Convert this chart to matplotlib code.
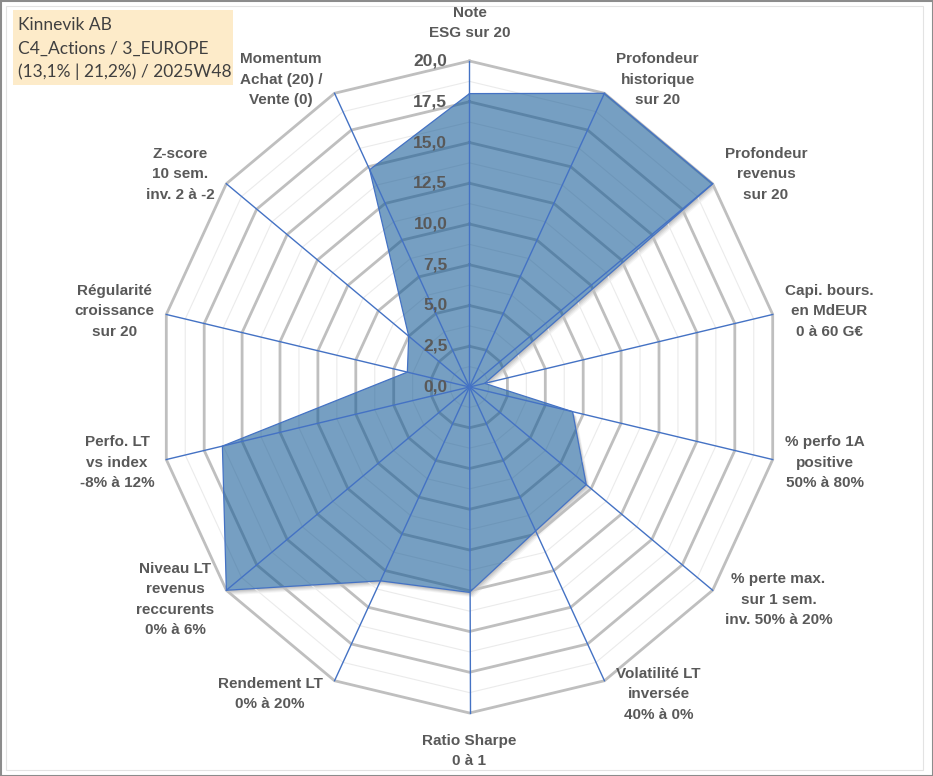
import matplotlib
matplotlib.use("Agg")
import matplotlib.pyplot as plt
import matplotlib.transforms as mtransforms
from matplotlib.patches import Rectangle
import numpy as np

# ---------------- data ----------------
categories = [
    "Note\nESG sur 20",
    "Profondeur\nhistorique\nsur 20",
    "Profondeur\nrevenus\nsur 20",
    "Capi. bours.\nen MdEUR\n0 à 60 G€",
    "% perfo 1A\npositive\n50% à 80%",
    "% perte max.\nsur 1 sem.\ninv. 50% à 20%",
    "Volatilité LT\ninversée\n40% à 0%",
    "Ratio Sharpe\n0 à 1",
    "Rendement LT\n0% à 20%",
    "Niveau LT\nrevenus\nreccurents\n0% à 6%",
    "Perfo. LT\nvs index\n-8% à 12%",
    "Régularité\ncroissance\nsur 20",
    "Z-score\n10 sem.\ninv. 2 à -2",
    "Momentum\nAchat (20) /\nVente (0)",
]
values = [18.0, 20.0, 20.0, 1.0, 6.8, 9.6, 9.8, 12.6, 13.2, 20.0, 16.3, 4.1, 5.0, 14.8]
tick_values = [0.0, 2.5, 5.0, 7.5, 10.0, 12.5, 15.0, 17.5, 20.0]
tick_labels = ["0,0", "2,5", "5,0", "7,5", "10,0", "12,5", "15,0", "17,5", "20,0"]
title_lines = ["Kinnevik AB", "C4_Actions / 3_EUROPE", "(13,1% | 21,2%) / 2025W48"]

# ---------------- figure ----------------
W, H = 933, 776
fig = plt.figure(figsize=(W / 100, H / 100), dpi=100)
ax = fig.add_axes([0, 0, 1, 1])
cx, cy = 469.5, 387.0      # centre in pixels
rx, ry = 311.0, 326.0      # pixel length of the max value
rmax = tick_values[-1]
ax.set_xlim(-cx / rx * rmax, (W - cx) / rx * rmax)
ax.set_ylim(-(H - cy) / ry * rmax, cy / ry * rmax)
ax.axis("off")

n = len(categories)
theta = np.arange(n) * 2 * np.pi / n
sx, sy = np.sin(theta), np.cos(theta)


def closed(r):
    r = np.asarray(r, dtype=float) * np.ones(n)
    return np.append(r * sx, r[0] * sx[0]), np.append(r * sy, r[0] * sy[0])


vx, vy = closed(values)

# shadow of the series (soft, offset down-right)
for k, a in [(1, 0.07), (2, 0.07), (3, 0.06), (4, 0.05), (5, 0.04)]:
    tr = mtransforms.offset_copy(ax.transData, fig=fig, x=k * 0.8, y=-k, units="dots")
    ax.fill(vx, vy, color="black", alpha=a, lw=0, transform=tr, zorder=0.5)
ax.fill(vx, vy, color="white", lw=0, zorder=0.8)

# minor grid
step = tick_values[1] - tick_values[0]
for lv in np.arange(step / 2, rmax, step):
    gx, gy = closed(lv)
    ax.plot(gx, gy, color="#EBEBEB", lw=0.8, zorder=1)
# major grid
for lv in tick_values[1:]:
    gx, gy = closed(lv)
    ax.plot(gx, gy, color="#BFBFBF", lw=2.0, zorder=2, solid_joinstyle="miter")

# series fill
ax.fill(vx, vy, facecolor="#145A96", alpha=0.58, lw=0, zorder=3)
ax.plot(vx, vy, color="#4472C4", lw=0.9, zorder=4)

# spokes
for i in range(n):
    ax.plot([0, rmax * sx[i]], [0, rmax * sy[i]], color="#4472C4", lw=1.0, zorder=5)

# value axis tick labels
for v, lab in zip(tick_values, tick_labels):
    ax.annotate(lab, xy=(0, v), xytext=(-16, 0), textcoords="offset points",
                ha="right", va="center", fontsize=12.5, fontweight="bold",
                color="#595959", family="Liberation Sans", zorder=10)

# category labels
pt = 72 / 100
for i, lab in enumerate(categories):
    xy = (rmax * sx[i], rmax * sy[i])
    if abs(sx[i]) < 1e-6:
        ha = "center"
        dx, dy = 0, 38 * np.sign(sy[i]) * pt
    else:
        ha = "left" if sx[i] > 0 else "right"
        dx = 12 * np.sign(sx[i]) * pt
        dy = 15 * sy[i] * pt
    ax.annotate(lab, xy=xy, xytext=(dx, dy), textcoords="offset points",
                ha=ha, va="center", multialignment="center", linespacing=1.58,
                fontsize=11, fontweight="bold", color="#595959",
                family="Liberation Sans", zorder=10)

# title box
fig.patches.append(Rectangle((13 / W, 1 - 85 / H), 220 / W, 75 / H,
                             transform=fig.transFigure, facecolor="#FDEBC9",
                             edgecolor="none", zorder=0))
for j, line in enumerate(title_lines):
    fig.text(18 / W, 1 - (25 + 23.5 * j) / H, line, ha="left", va="center",
             fontsize=12.5, color="#404040", family="Lato")

# borders
fig.patches.append(Rectangle((0.5 / W, 0.5 / H), 1 - 1 / W, 1 - 1 / H,
                             transform=fig.transFigure, fill=False,
                             edgecolor="#8C8C8C", lw=1.5))
fig.patches.append(Rectangle((6 / W, 6 / H), 1 - 16 / W, 1 - 12 / H,
                             transform=fig.transFigure, fill=False,
                             edgecolor="#E3E3E3", lw=0.8))

fig.savefig("out.png", dpi=100)
